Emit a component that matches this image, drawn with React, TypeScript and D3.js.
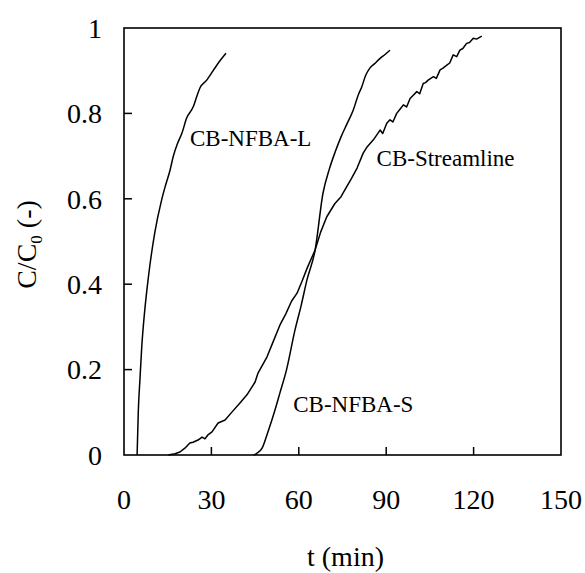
import * as d3 from "d3";

// breakthrough curves, t in min, C/C0
const nfbaLT = [4.5, 4.9, 5.5, 6.1, 7.0, 8.0, 8.9, 10.6, 12.9, 14.1, 15.8, 16.9, 18.4, 19.9, 21.5, 23.8, 25.0, 26.1, 28.4, 30.6, 32.8, 35.0];
const nfbaLC = [0, 0.1, 0.18, 0.254, 0.33, 0.395, 0.445, 0.522, 0.597, 0.628, 0.667, 0.699, 0.73, 0.754, 0.789, 0.816, 0.84, 0.86, 0.878, 0.9, 0.922, 0.941];

const nfbaST = [44.5, 45.6, 47.4, 49.4, 51.8, 53.5, 55.8, 58.7, 60.8, 62.8, 65.6, 68.3, 70.5, 72.5, 74.5, 76.5, 78.7, 80.5, 81.6, 83.0, 84.4, 86.1, 87.9, 89.6, 91.3];
const nfbaSC = [0, 0.004, 0.016, 0.054, 0.105, 0.145, 0.2, 0.293, 0.35, 0.41, 0.48, 0.613, 0.67, 0.71, 0.745, 0.775, 0.808, 0.845, 0.862, 0.89, 0.906, 0.917, 0.929, 0.938, 0.948];

const streamT = [15.2, 17.5, 19.2, 20.9, 22.6, 23.7, 25.4, 26.8, 27.8, 28.8, 30.2, 32.3, 34.7, 37.1, 39.8, 42.2, 43.9, 45.0, 46.0, 49.1, 51.0, 53.5, 55.5, 57.5, 59.4, 61.0, 63.0, 65.6, 67.5, 69.6, 72.4, 74.5, 76.4, 78.1, 80.0, 82.1, 83.5, 85.6, 87.9, 88.8, 90.2, 91.3, 92.3, 93.6, 95.0, 95.9, 97.0, 98.2, 99.2, 100.5, 101.5, 102.7, 103.5, 104.4, 106.2, 107.2, 108.5, 109.5, 110.8, 111.8, 113.0, 114.2, 115.3, 116.3, 117.6, 118.6, 119.9, 121.0, 122.8];
const streamC = [0, 0.003, 0.007, 0.016, 0.028, 0.03, 0.035, 0.042, 0.038, 0.047, 0.054, 0.075, 0.082, 0.101, 0.122, 0.141, 0.159, 0.171, 0.192, 0.23, 0.262, 0.304, 0.33, 0.36, 0.379, 0.405, 0.44, 0.48, 0.522, 0.558, 0.589, 0.605, 0.628, 0.648, 0.672, 0.707, 0.722, 0.738, 0.761, 0.753, 0.777, 0.785, 0.78, 0.8, 0.812, 0.82, 0.815, 0.835, 0.842, 0.851, 0.846, 0.87, 0.872, 0.878, 0.886, 0.882, 0.902, 0.906, 0.913, 0.918, 0.937, 0.933, 0.948, 0.952, 0.964, 0.966, 0.976, 0.974, 0.981];

const xTicks = [0, 30, 60, 90, 120, 150];
const yTicks = [0, 0.2, 0.4, 0.6, 0.8, 1];

const labels = [
  { text: "CB-NFBA-L", t: 22.65, c: 0.724 },
  { text: "CB-Streamline", t: 86.7, c: 0.677 },
  { text: "CB-NFBA-S", t: 58.1, c: 0.1 },
];

const width = 585;
const height = 573;
const margin = { left: 124, top: 28, right: 24, bottom: 118 };

export default function App() {
  const x = d3.scaleLinear().domain([0, 150]).range([margin.left, width - margin.right]);
  const y = d3.scaleLinear().domain([0, 1]).range([height - margin.bottom, margin.top]);

  const line = d3.line<[number, number]>().x(d => x(d[0])).y(d => y(d[1]));
  const smooth = d3.line<[number, number]>().x(d => x(d[0])).y(d => y(d[1])).curve(d3.curveMonotoneX);

  const zip = (ts: number[], cs: number[]) => ts.map((t, i) => [t, cs[i]] as [number, number]);

  const x0 = x(0), x1 = x(150), y0 = y(0), y1 = y(1);
  const font = "'Liberation Serif', 'Times New Roman', serif";

  return (
    <svg width={width} height={height} style={{ position: "absolute", left: 0, top: 0, background: "#fff" }} fontFamily={font}>
      <rect x={x0} y={y1} width={x1 - x0} height={y0 - y1} fill="none" stroke="#000" strokeWidth={1.6} />
      {xTicks.slice(1, -1).map(t => (
        <line key={"xt" + t} x1={x(t)} x2={x(t)} y1={y0} y2={y0 - 8} stroke="#000" strokeWidth={1.5} />
      ))}
      {yTicks.slice(1, -1).map(v => (
        <line key={"yt" + v} x1={x0} x2={x0 + 8} y1={y(v)} y2={y(v)} stroke="#000" strokeWidth={1.5} />
      ))}
      {xTicks.map(t => (
        <text key={"xl" + t} x={x(t)} y={509} textAnchor="middle" fontSize={28}>{t}</text>
      ))}
      {yTicks.map(v => (
        <text key={"yl" + v} x={x0 - 22} y={y(v)} dy="0.35em" textAnchor="end" fontSize={28}>{v}</text>
      ))}
      <text x={(x0 + x1) / 2 + 3} y={566} textAnchor="middle" fontSize={28}>t (min)</text>
      <text transform={`translate(36,${(y0 + y1) / 2 + 3}) rotate(-90)`} textAnchor="middle" fontSize={28}>
        C/C<tspan fontSize={17} dy="6">0</tspan><tspan dy="-6"> (-)</tspan>
      </text>

      <path d={smooth(zip(nfbaLT, nfbaLC)) || ""} fill="none" stroke="#000" strokeWidth={1.5} />
      <path d={smooth(zip(nfbaST, nfbaSC)) || ""} fill="none" stroke="#000" strokeWidth={1.5} />
      <path d={line(zip(streamT, streamC)) || ""} fill="none" stroke="#000" strokeWidth={1.5} strokeLinejoin="round" />

      {labels.map(l => (
        <text key={l.text} x={x(l.t)} y={y(l.c)} fontSize={23}>{l.text}</text>
      ))}
    </svg>
  );
}
